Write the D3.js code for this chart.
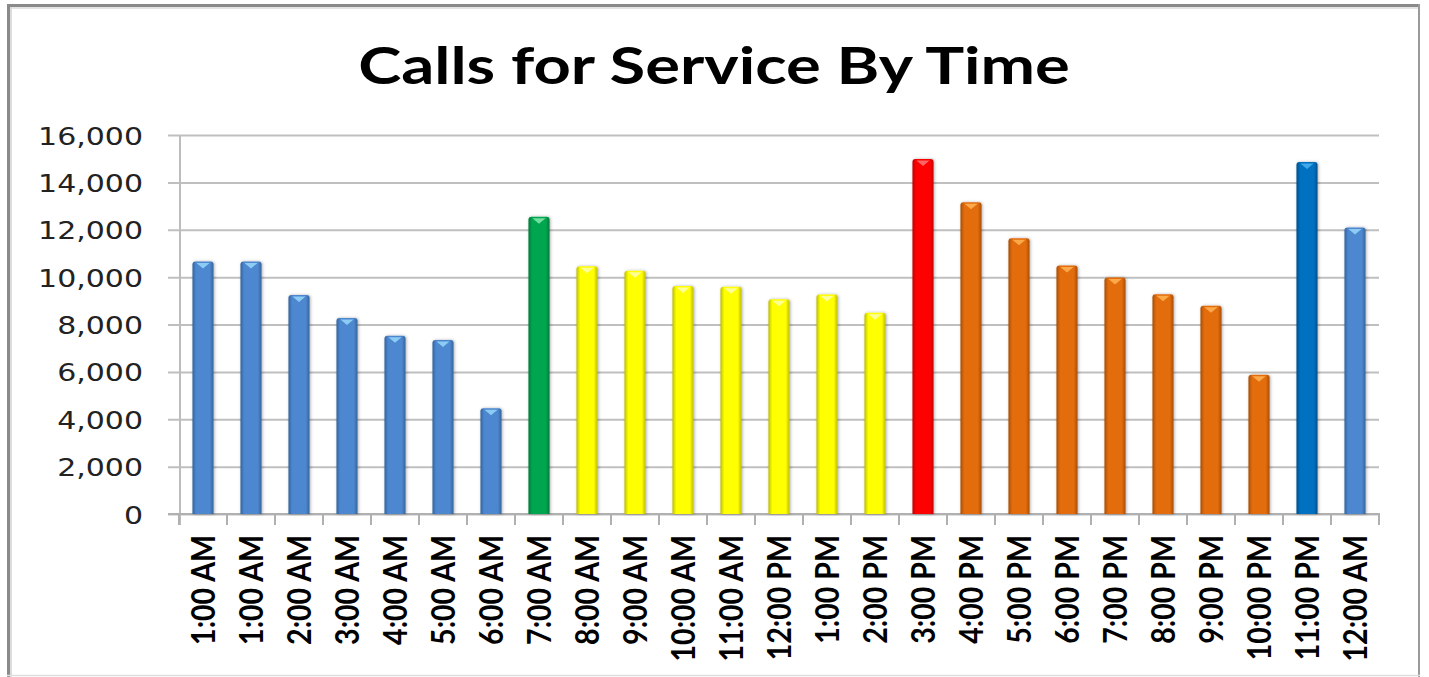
<!DOCTYPE html>
<html>
<head>
<meta charset="utf-8">
<script src="https://cdn.jsdelivr.net/npm/d3@7"></script>
<style>
  html, body { margin: 0; padding: 0; background: #fff; }
  svg { display: block; }
</style>
</head>
<body>
<svg id="chart" width="1429" height="677"></svg>
<script>
// ---------- DATA ----------
const titleText = "Calls for Service By Time";
const categories = ["1:00 AM","1:00 AM","2:00 AM","3:00 AM","4:00 AM","5:00 AM","6:00 AM","7:00 AM",
  "8:00 AM","9:00 AM","10:00 AM","11:00 AM","12:00 PM","1:00 PM","2:00 PM","3:00 PM",
  "4:00 PM","5:00 PM","6:00 PM","7:00 PM","8:00 PM","9:00 PM","10:00 PM","11:00 PM","12:00 AM"];
const values = [10660, 10660, 9250, 8270, 7520, 7350, 4460, 12550,
  10460, 10270, 9630, 9590, 9070, 9270, 8500, 14990,
  13160, 11640, 10490, 9980, 9280, 8790, 5880, 14860, 12090];
const groups = ["night","night","night","night","night","night","night","peakAM",
  "day","day","day","day","day","day","day","peakPM",
  "eve","eve","eve","eve","eve","eve","eve","late","night"];
const yTicks = [0, 2000, 4000, 6000, 8000, 10000, 12000, 14000, 16000];

// ---------- STYLES ----------
const palette = {
  night:  { base: "#4d87d0", dark: "#34649f", hi: "#93d3f7" },
  peakAM: { base: "#00a650", dark: "#007a3a", hi: "#7ee6a8" },
  day:    { base: "#ffff00", dark: "#bdbd00", hi: "#ffffa8" },
  peakPM: { base: "#ff0000", dark: "#c40000", hi: "#ff7070" },
  eve:    { base: "#e36c0a", dark: "#a94d05", hi: "#ffb050" },
  late:   { base: "#0070c0", dark: "#00508c", hi: "#48aef0" }
};

const svg = d3.select("#chart");
const W = 1429, H = 677;
const plot = { left: 179, right: 1379, top: 135, bottom: 514 };

const x = d3.scaleBand().domain(d3.range(categories.length))
  .range([plot.left, plot.right]).paddingInner(0.56).paddingOuter(0.28);
const xb = d3.scaleLinear().domain([0, categories.length]).range([plot.left, plot.right]);
const y = d3.scaleLinear().domain([0, 16000]).range([plot.bottom, plot.top]);

// defs
const defs = svg.append("defs");
Object.entries(palette).forEach(([k, c]) => {
  const g = defs.append("linearGradient").attr("id", "grad-" + k)
    .attr("x1", "0%").attr("x2", "100%").attr("y1", "0%").attr("y2", "0%");
  g.append("stop").attr("offset", "0%").attr("stop-color", c.dark);
  g.append("stop").attr("offset", "18%").attr("stop-color", c.base);
  g.append("stop").attr("offset", "50%").attr("stop-color", c.base);
  g.append("stop").attr("offset", "82%").attr("stop-color", c.base);
  g.append("stop").attr("offset", "100%").attr("stop-color", c.dark);
});
const f = defs.append("filter").attr("id", "shadow")
  .attr("x", "-50%").attr("y", "-10%").attr("width", "200%").attr("height", "120%");
f.append("feDropShadow").attr("dx", 1).attr("dy", 0).attr("stdDeviation", 1.6)
  .attr("flood-color", "#000").attr("flood-opacity", 0.3);

// background
svg.append("rect").attr("width", W).attr("height", H).attr("fill", "#fff");

// frame
svg.append("line").attr("x1", 7).attr("x2", 1420).attr("y1", 5.5).attr("y2", 5.5)
  .attr("stroke", "#8a8a8a").attr("stroke-width", 3);
svg.append("line").attr("x1", 7).attr("x2", 1420).attr("y1", 8).attr("y2", 8)
  .attr("stroke", "#e4e4e4").attr("stroke-width", 2);
svg.append("line").attr("x1", 8.5).attr("x2", 8.5).attr("y1", 4).attr("y2", 677)
  .attr("stroke", "#8a8a8a").attr("stroke-width", 3);
svg.append("line").attr("x1", 11).attr("x2", 11).attr("y1", 7).attr("y2", 677)
  .attr("stroke", "#dcdcdc").attr("stroke-width", 2);
svg.append("line").attr("x1", 1419).attr("x2", 1419).attr("y1", 4).attr("y2", 677)
  .attr("stroke", "#9a9a9a").attr("stroke-width", 2);
svg.append("line").attr("x1", 7).attr("x2", 1420).attr("y1", 675.5).attr("y2", 675.5)
  .attr("stroke", "#dddddd").attr("stroke-width", 1.5);

// title
const title = svg.append("text").text(titleText)
  .attr("font-family", "Lato, 'Open Sans', sans-serif").attr("font-weight", "bold")
  .attr("font-size", 52).attr("fill", "#000").attr("text-anchor", "middle");
{
  const len = title.node().getComputedTextLength();
  const k = 712 / len;
  title.attr("transform", `translate(714,84) scale(${k},1)`);
}

// gridlines
const grid = svg.append("g").attr("transform", `translate(${plot.right},0)`)
  .call(d3.axisLeft(y).tickValues(yTicks).tickSize(plot.right - 168).tickFormat(""));
grid.select(".domain").remove();
grid.selectAll("line").attr("stroke", "#bfbfbf").attr("stroke-width", 2);

// y axis labels
const yAxis = svg.append("g").attr("transform", `translate(180,0)`)
  .call(d3.axisLeft(y).tickValues(yTicks).tickSize(0).tickPadding(37).tickFormat(d3.format(",")));
yAxis.select(".domain").remove();
yAxis.selectAll("text")
  .attr("font-family", "'DejaVu Sans', Verdana, sans-serif")
  .attr("font-size", 25).attr("fill", "#222").attr("dy", "0.36em");
{
  // horizontally stretch to match reference
  let maxLen = 0;
  yAxis.selectAll("text").each(function () { maxLen = Math.max(maxLen, this.getComputedTextLength()); });
  const k = 105 / maxLen;
  yAxis.selectAll(".tick text").attr("transform", `translate(${-37},0) scale(${k},1) translate(${37},0)`);
}

// axis lines and tick marks
svg.append("line").attr("x1", 180).attr("x2", 180).attr("y1", plot.top).attr("y2", plot.bottom + 11)
  .attr("stroke", "#bdbdbd").attr("stroke-width", 2);
svg.append("line").attr("x1", 168).attr("x2", plot.right + 1).attr("y1", plot.bottom).attr("y2", plot.bottom)
  .attr("stroke", "#b0b0b0").attr("stroke-width", 2);
svg.append("g").selectAll("line").data(d3.range(categories.length + 1)).join("line")
  .attr("x1", d => xb(d)).attr("x2", d => xb(d))
  .attr("y1", plot.bottom).attr("y2", plot.bottom + 11)
  .attr("stroke", "#b0b0b0").attr("stroke-width", 2);

// bars
const bw = x.bandwidth();
const bars = svg.append("g");
bars.selectAll("path.bar").data(values).join("path").attr("class", "bar")
  .attr("filter", "url(#shadow)")
  .attr("fill", (d, i) => `url(#grad-${groups[i]})`)
  .attr("d", (d, i) => {
    const x0 = x(i), x1 = x(i) + bw, y0 = y(d), yb = y(0), r = 3;
    return `M${x0},${yb} L${x0},${y0 + r} Q${x0},${y0} ${x0 + r},${y0} L${x1 - r},${y0} Q${x1},${y0} ${x1},${y0 + r} L${x1},${yb} Z`;
  });
bars.selectAll("path.cap").data(values).join("path").attr("class", "cap")
  .attr("fill", (d, i) => palette[groups[i]].hi).attr("opacity", 0.9)
  .attr("d", (d, i) => {
    const x0 = x(i), x1 = x(i) + bw, y0 = y(d), cx = x0 + bw / 2;
    return `M${x0 + 4},${y0 + 1.5} L${x1 - 4},${y0 + 1.5} L${cx},${y0 + 7} Z`;
  });

// x labels
const xl = svg.append("g").selectAll("text").data(categories).join("text")
  .text(d => d)
  .attr("font-family", "Lato, 'Open Sans', sans-serif").attr("font-weight", "bold")
  .attr("font-size", 33).attr("fill", "#000").attr("text-anchor", "end").attr("dy", "0.36em");
{
  const len = xl.filter((d, i) => i === 0).node().getComputedTextLength();
  const k = 110 / len;
  xl.attr("transform", (d, i) => `translate(${x(i) + bw / 2},535) rotate(-90) scale(${k},1)`);
}
</script>
</body>
</html>
